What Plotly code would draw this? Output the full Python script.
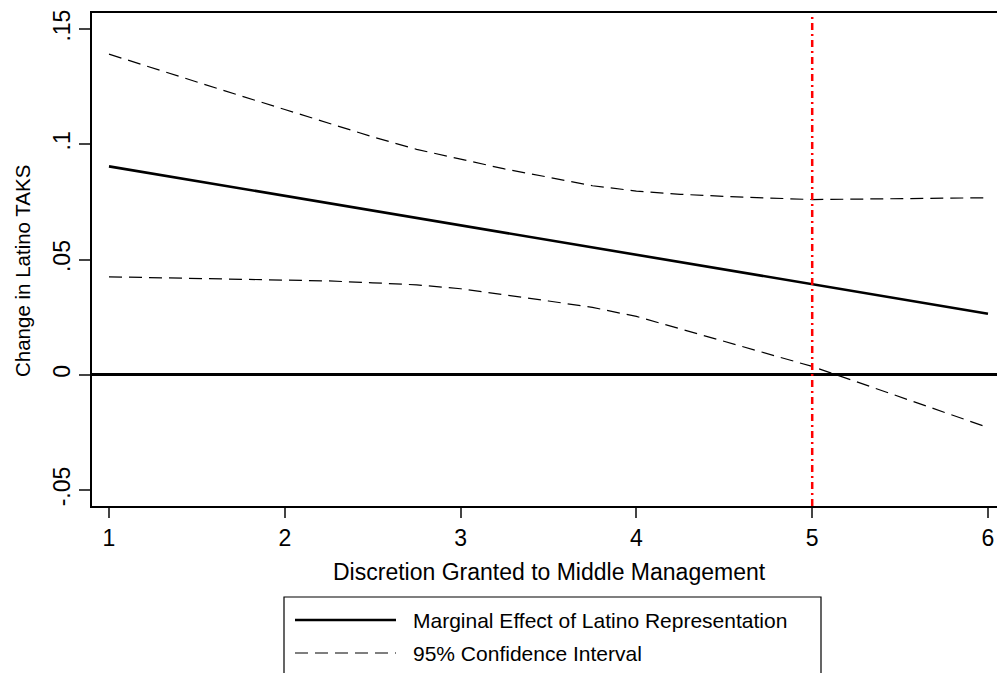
import plotly.graph_objects as go

# Discretion level (x) and marginal effect estimates
discretion = [1.0, 1.25, 1.5, 1.75, 2.0, 2.25, 2.5, 2.75, 3.0, 3.25, 3.5, 3.75,
              4.0, 4.25, 4.5, 4.75, 5.0, 5.25, 5.5, 5.75, 6.0]
marginal_effect = [0.0904, 0.0872, 0.0840, 0.0808, 0.0776, 0.0744, 0.0712, 0.0681,
                   0.0649, 0.0617, 0.0585, 0.0553, 0.0521, 0.0489, 0.0457, 0.0425,
                   0.0393, 0.0361, 0.0329, 0.0297, 0.0265]
ci_upper = [0.1391, 0.1330, 0.1270, 0.1210, 0.1151, 0.1090, 0.1032, 0.0978,
            0.0934, 0.0893, 0.0857, 0.0820, 0.0797, 0.0783, 0.0774, 0.0766,
            0.0760, 0.0762, 0.0765, 0.0767, 0.0768]
ci_lower = [0.0425, 0.0422, 0.0418, 0.0414, 0.0411, 0.0407, 0.0399, 0.0390,
            0.0373, 0.0348, 0.0320, 0.0292, 0.0253, 0.0199, 0.0145, 0.0090,
            0.0036, -0.0030, -0.0097, -0.0163, -0.0229]

x_ticks = [1, 2, 3, 4, 5, 6]
y_ticks = [-0.05, 0, 0.05, 0.1, 0.15]
y_tick_text = ["-.05", "0", ".05", ".1", ".15"]
reference_discretion = 5

FONT = "Liberation Sans, Arial, sans-serif"

# Plot area in pixels (used to place the hand-drawn legend)
W, H = 997, 673
L, R, T, B = 92, 0, 13, 167
PW, PH = W - L - R, H - T - B


def px(x):
    return (x - L) / PW


def py(y):
    return (H - B - y) / PH


fig = go.Figure()

fig.add_trace(go.Scatter(x=discretion, y=ci_upper, mode="lines",
                         line=dict(color="black", width=1.2, dash="13px,7px"),
                         showlegend=False, hoverinfo="skip"))
fig.add_trace(go.Scatter(x=discretion, y=ci_lower, mode="lines",
                         line=dict(color="black", width=1.2, dash="13px,7px"),
                         showlegend=False, hoverinfo="skip"))
fig.add_trace(go.Scatter(x=discretion, y=marginal_effect, mode="lines",
                         line=dict(color="black", width=2.6),
                         showlegend=False))

shapes = [
    # reference line at discretion = 5
    dict(type="line", xref="x", yref="paper", x0=reference_discretion,
         x1=reference_discretion, y0=0, y1=1,
         line=dict(color="#ff0000", width=2.5, dash="7px,4px,2px,4px")),
    # legend frame
    dict(type="rect", xref="paper", yref="paper",
         x0=px(284), x1=px(821), y0=py(597), y1=py(700),
         line=dict(color="black", width=1.2), fillcolor="white"),
    dict(type="line", xref="paper", yref="paper",
         x0=px(295), x1=px(396), y0=py(620), y1=py(620),
         line=dict(color="black", width=2.6)),
    dict(type="line", xref="paper", yref="paper",
         x0=px(295), x1=px(396), y0=py(653), y1=py(653),
         line=dict(color="black", width=1.2, dash="13px,7px")),
]

annotations = [
    dict(text="Marginal Effect of Latino Representation", xref="paper", yref="paper",
         x=px(411), y=py(620), xanchor="left", yanchor="middle", showarrow=False,
         font=dict(size=21, color="black", family=FONT)),
    dict(text="95% Confidence Interval", xref="paper", yref="paper",
         x=px(411), y=py(653), xanchor="left", yanchor="middle", showarrow=False,
         font=dict(size=21, color="black", family=FONT)),
    dict(text="Discretion Granted to Middle Management", xref="paper", yref="paper",
         x=px(549), y=py(572), xanchor="center", yanchor="middle", showarrow=False,
         font=dict(size=23, color="black", family=FONT)),
    dict(text="Change in Latino TAKS", xref="paper", yref="paper", textangle=-90,
         x=px(22), y=py(271), xanchor="center", yanchor="middle", showarrow=False,
         font=dict(size=20.5, color="black", family=FONT)),
]

fig.update_layout(
    width=W, height=H,
    margin=dict(l=L, r=R, t=T, b=B, pad=0),
    paper_bgcolor="white", plot_bgcolor="white",
    font=dict(family=FONT, color="black"),
    shapes=shapes, annotations=annotations,
    showlegend=False,
)

fig.update_xaxes(
    range=[1 - 17 / 175.8, 6 + 9 / 175.8],
    tickvals=x_ticks, ticktext=[str(v) for v in x_ticks],
    ticks="outside", ticklen=10, tickwidth=1.5, tickcolor="#444",
    tickfont=dict(size=23, family=FONT, color="black"),
    showline=True, linecolor="black", linewidth=2, mirror=True,
    showgrid=False, zeroline=False,
)
fig.update_yaxes(
    range=[-0.05 - 16 / 2300, 0.15 + 16 / 2300],
    tickvals=y_ticks, ticktext=y_tick_text, tickangle=-90,
    ticks="outside", ticklen=11, tickwidth=1.5, tickcolor="#444",
    tickfont=dict(size=23, family=FONT, color="black"),
    showline=True, linecolor="black", linewidth=2, mirror=False,
    showgrid=False, zeroline=True, zerolinecolor="black", zerolinewidth=2.5,
)

fig.write_html("out.html")
